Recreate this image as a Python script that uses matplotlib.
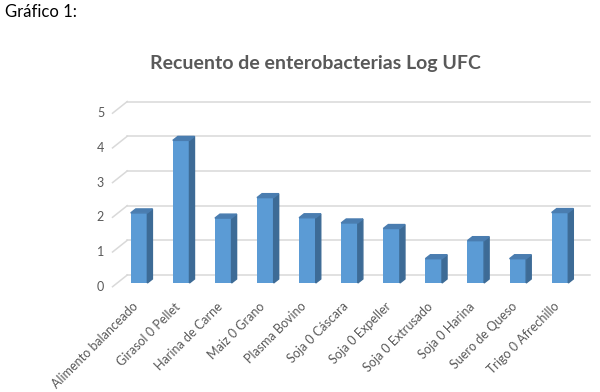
import numpy as np
import matplotlib.pyplot as plt
from matplotlib.patches import Polygon

plt.rcParams['font.family'] = ['Lato', 'DejaVu Sans']

categorias = ["Alimento balanceado", "Girasol 0 Pellet", "Harina de Carne",
              "Maiz 0 Grano", "Plasma Bovino", "Soja 0 Cáscara",
              "Soja 0 Expeller", "Soja 0 Extrusado", "Soja 0 Harina",
              "Suero de Queso", "Trigo 0 Afrechillo"]
log_ufc = [2.02, 4.11, 1.87, 2.46, 1.88, 1.73, 1.57, 0.70, 1.22, 0.70, 2.03]
ticks_y = [0, 1, 2, 3, 4, 5]

gris = "#595959"
frente = "#5B9BD5"
lado = "#3D6B96"
techo = "#4A7DB0"

fig = plt.figure(figsize=(6, 3.92), dpi=100)
fig.set_facecolor("white")
ax = fig.add_axes([118/600, (392-283)/392, 463/600, 173.5/392])
ax.set_xlim(-0.5, 10.5)
ax.set_ylim(0, 5)
ax.axis("off")

# pared del fondo (pseudo 3D)
bx, by = 0.22, 0.23       # desplazamiento de la pared
fx, fy = -0.13, -0.107    # plano frontal del eje
for v in ticks_y:
    ax.plot([-0.5 + bx, 10.5 + bx], [v + by, v + by], color="#D9D9D9",
            lw=1.1, clip_on=False, zorder=1)
    ax.plot([-0.5 + fx, -0.5 + bx], [v + fy, v + by], color="#D9D9D9",
            lw=1.1, clip_on=False, zorder=1)
    ax.text(-0.83, v + fy, str(v), ha="right", va="center", fontsize=9,
            color=gris)

# columnas
x = np.arange(len(categorias))
w = 0.395
dx, dy = 0.12, 0.115
ax.bar(x, log_ufc, width=w, color=frente, zorder=3, clip_on=False)
for xi, v in zip(x, log_ufc):
    r = xi + w/2
    l = xi - w/2
    ax.add_patch(Polygon([(r, 0), (r + dx, dy), (r + dx, v + dy), (r, v)],
                         closed=True, color=lado, zorder=3, clip_on=False))
    ax.add_patch(Polygon([(l, v), (l + dx, v + dy), (r + dx, v + dy), (r, v)],
                         closed=True, color=techo, zorder=3, clip_on=False))

for xi, c in zip(x, categorias):
    ax.text(xi - 0.17, -0.5, c, rotation=45, rotation_mode="anchor",
            ha="right", va="top", fontsize=9, color=gris)

fig.text(315/600, 1 - 63/392, "Recuento de enterobacterias Log UFC",
         ha="center", va="center", fontsize=14, fontweight="bold", color=gris)
fig.text(5/600, 1 - 12/392, "Gráfico 1:", ha="left", va="center",
         fontsize=12, color="black")

fig.savefig("out.png", dpi=100)
plt.close()
